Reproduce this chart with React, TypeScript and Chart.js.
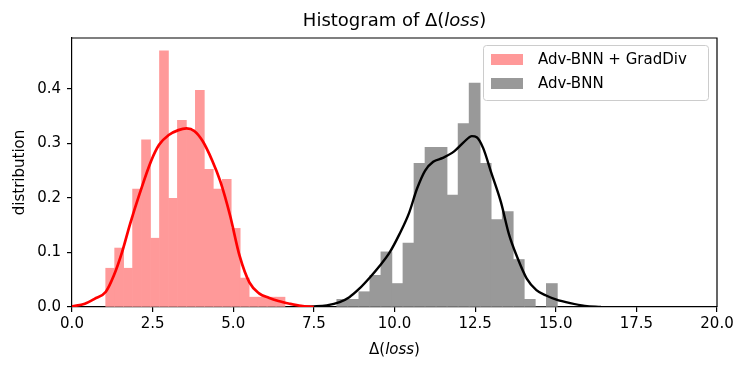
import React, { useEffect, useRef } from "react";
import { Chart, registerables } from "chart.js";

Chart.register(...registerables);

const FONT = "'DejaVu Sans', 'Liberation Sans', sans-serif";

// ---- Data ----
const redBinStart = 1.045;
const redBinWidth = 0.278;
const redHeights = [
  0.071, 0.108, 0.071, 0.216, 0.306, 0.126, 0.469, 0.199, 0.342, 0.325,
  0.397, 0.252, 0.216, 0.234, 0.144, 0.053, 0.018, 0.018, 0.018, 0.018,
];

const grayBinStart = 8.21;
const grayBinWidth = 0.342;
const grayHeights = [
  0.014, 0.014, 0.028, 0.058, 0.101, 0.043, 0.117, 0.263, 0.2925, 0.2925,
  0.205, 0.336, 0.41, 0.263, 0.16, 0.175, 0.087, 0.014, 0.0, 0.043,
];

const redKdeX = [
  0, 0.4, 0.7, 1.05, 1.3, 1.55, 1.8, 2.1, 2.45, 2.7, 3.0, 3.3, 3.55, 3.8,
  4.05, 4.35, 4.6, 4.9, 5.2, 5.5, 5.8, 6.1, 6.4, 6.75, 7.1, 7.5,
];
const redKdeY = [
  0.001, 0.006, 0.015, 0.028, 0.058, 0.1, 0.152, 0.208, 0.267, 0.297, 0.315,
  0.324, 0.327, 0.322, 0.304, 0.268, 0.23, 0.168, 0.093, 0.045, 0.025, 0.017,
  0.011, 0.006, 0.002, 0,
];

const grayKdeX = [
  7.0, 7.5, 7.9, 8.3, 8.6, 8.9, 9.25, 9.55, 9.85, 10.15, 10.45, 10.7, 10.95,
  11.2, 11.5, 11.85, 12.15, 12.4, 12.55, 12.75, 13.0, 13.3, 13.55, 13.8, 14.1,
  14.4, 14.7, 15.0, 15.45, 15.9, 16.4,
];
const grayKdeY = [
  0, 0.001, 0.003, 0.009, 0.018, 0.033, 0.055, 0.076, 0.1, 0.133, 0.172,
  0.217, 0.25, 0.266, 0.273, 0.285, 0.302, 0.313, 0.311, 0.291, 0.246, 0.192,
  0.133, 0.092, 0.052, 0.031, 0.021, 0.014, 0.007, 0.002, 0,
];

const xTicks = [0, 2.5, 5, 7.5, 10, 12.5, 15, 17.5, 20];
const yTicks = [0, 0.1, 0.2, 0.3, 0.4];
const xRange = [0, 20];
const yRange = [0, 0.4927];

const seriesLabels = ["Adv-BNN + GradDiv", "Adv-BNN"];
const titleParts = ["Histogram of \u0394(", "loss", ")"];
const xLabelParts = ["\u0394(", "loss", ")"];
const yLabelText = "distribution";

const RED_FILL = "#ff9999";
const GRAY_FILL = "#999999";

function binPoints(start: number, width: number, heights: number[]) {
  return heights.map((h, i) => ({ x: start + (i + 0.5) * width, y: h }));
}
function curvePoints(xs: number[], ys: number[]) {
  return xs.map((x, i) => ({ x, y: ys[i] }));
}

function drawMixed(
  ctx: CanvasRenderingContext2D,
  parts: string[],
  cx: number,
  baseline: number,
  size: number
) {
  const fonts = parts.map((_, i) =>
    i === 1 ? `italic ${size}px ${FONT}` : `${size}px ${FONT}`
  );
  const widths = parts.map((p, i) => {
    ctx.font = fonts[i];
    return ctx.measureText(p).width;
  });
  const total = widths.reduce((a, b) => a + b, 0);
  let x = cx - total / 2;
  ctx.textAlign = "left";
  ctx.textBaseline = "alphabetic";
  ctx.fillStyle = "#000";
  parts.forEach((p, i) => {
    ctx.font = fonts[i];
    ctx.fillText(p, x, baseline);
    x += widths[i];
  });
}

const decorPlugin = {
  id: "decor",
  afterDraw(chart: any) {
    const { ctx, chartArea: ca } = chart;
    ctx.save();
    // top & right spines
    ctx.strokeStyle = "#000";
    ctx.lineWidth = 1.2;
    ctx.beginPath();
    ctx.moveTo(ca.left, ca.top);
    ctx.lineTo(ca.right, ca.top);
    ctx.lineTo(ca.right, ca.bottom);
    ctx.stroke();

    const cx = (ca.left + ca.right) / 2;
    drawMixed(ctx, titleParts, cx, 26, 18);
    drawMixed(ctx, xLabelParts, cx, 354, 15);

    // y label
    ctx.save();
    ctx.translate(20, (ca.top + ca.bottom) / 2);
    ctx.rotate(-Math.PI / 2);
    ctx.font = `15px ${FONT}`;
    ctx.fillStyle = "#000";
    ctx.textAlign = "center";
    ctx.textBaseline = "middle";
    ctx.fillText(yLabelText, 0, 0);
    ctx.restore();

    // legend
    const lx = 483.5, ly = 45.5, lw = 225, lh = 55, r = 3;
    ctx.beginPath();
    ctx.moveTo(lx + r, ly);
    ctx.lineTo(lx + lw - r, ly);
    ctx.quadraticCurveTo(lx + lw, ly, lx + lw, ly + r);
    ctx.lineTo(lx + lw, ly + lh - r);
    ctx.quadraticCurveTo(lx + lw, ly + lh, lx + lw - r, ly + lh);
    ctx.lineTo(lx + r, ly + lh);
    ctx.quadraticCurveTo(lx, ly + lh, lx, ly + lh - r);
    ctx.lineTo(lx, ly + r);
    ctx.quadraticCurveTo(lx, ly, lx + r, ly);
    ctx.closePath();
    ctx.fillStyle = "rgba(255,255,255,0.8)";
    ctx.fill();
    ctx.strokeStyle = "#cccccc";
    ctx.lineWidth = 1;
    ctx.stroke();

    const swatches = [RED_FILL, GRAY_FILL];
    seriesLabels.forEach((label, i) => {
      const y = 54 + i * 24;
      ctx.fillStyle = swatches[i];
      ctx.fillRect(491, y, 32, 11);
      ctx.fillStyle = "#000";
      ctx.font = `15px ${FONT}`;
      ctx.textAlign = "left";
      ctx.textBaseline = "middle";
      ctx.fillText(label, 538, y + 6);
    });
    ctx.restore();
  },
};

export default function App() {
  const ref = useRef<HTMLCanvasElement | null>(null);

  useEffect(() => {
    if (!ref.current) return;
    const tickFont = { family: FONT, size: 15 };
    const chart = new Chart(ref.current, {
      type: "bar",
      data: {
        datasets: [
          {
            type: "line",
            label: "kde1",
            data: curvePoints(redKdeX, redKdeY),
            borderColor: "#ff0000",
            borderWidth: 2.7,
            pointRadius: 0,
            cubicInterpolationMode: "monotone",
            fill: false,
            xAxisID: "x",
            yAxisID: "y",
            order: 0,
          } as any,
          {
            type: "line",
            label: "kde2",
            data: curvePoints(grayKdeX, grayKdeY),
            borderColor: "#000000",
            borderWidth: 2.4,
            pointRadius: 0,
            cubicInterpolationMode: "monotone",
            fill: false,
            xAxisID: "x",
            yAxisID: "y",
            order: 0,
          } as any,
          {
            type: "bar",
            label: seriesLabels[0],
            data: binPoints(redBinStart, redBinWidth, redHeights),
            backgroundColor: RED_FILL,
            borderWidth: 0,
            barPercentage: 1,
            categoryPercentage: 1,
            grouped: false,
            xAxisID: "x",
            yAxisID: "y",
            order: 1,
          } as any,
          {
            type: "bar",
            label: seriesLabels[1],
            data: binPoints(grayBinStart, grayBinWidth, grayHeights),
            backgroundColor: GRAY_FILL,
            borderWidth: 0,
            barPercentage: 1,
            categoryPercentage: 1,
            grouped: false,
            xAxisID: "x2",
            yAxisID: "y",
            order: 1,
          } as any,
        ],
      },
      options: {
        animation: false,
        responsive: false,
        maintainAspectRatio: false,
        devicePixelRatio: 1,
        layout: { padding: { top: 38, right: 30, left: 0, bottom: 0 } },
        plugins: {
          legend: { display: false },
          title: { display: false },
          tooltip: { enabled: false },
        },
        scales: {
          x: {
            type: "linear",
            position: "bottom",
            min: xRange[0],
            max: xRange[1],
            offset: false,
            grid: {
              offset: false,
              drawOnChartArea: false,
              drawTicks: true,
              tickLength: 5,
              color: "#000",
              lineWidth: 1.2,
            },
            border: { display: true, color: "#000", width: 1.2 },
            ticks: {
              font: tickFont,
              color: "#000",
              padding: 3,
              maxRotation: 0,
              autoSkip: false,
              callback: (v: any) => Number(v).toFixed(1),
            },
            afterBuildTicks: (s: any) => {
              s.ticks = xTicks.map((v) => ({ value: v }));
            },
            afterFit: (s: any) => {
              s.height = 63;
            },
          },
          x2: {
            type: "linear",
            position: "bottom",
            display: false,
            min: xRange[0],
            max: xRange[1],
            offset: false,
            grid: { offset: false },
            afterBuildTicks: (s: any) => {
              s.ticks = xTicks.map((v) => ({ value: v }));
            },
          },
          y: {
            type: "linear",
            min: yRange[0],
            max: yRange[1],
            grid: {
              drawOnChartArea: false,
              drawTicks: true,
              tickLength: 5,
              color: "#000",
              lineWidth: 1.2,
            },
            border: { display: true, color: "#000", width: 1.2 },
            ticks: {
              font: tickFont,
              color: "#000",
              padding: 6,
              callback: (v: any) => Number(v).toFixed(1),
            },
            afterBuildTicks: (s: any) => {
              s.ticks = yTicks.map((v) => ({ value: v }));
            },
            afterFit: (s: any) => {
              s.width = 72;
            },
          },
        },
      } as any,
      plugins: [decorPlugin],
    });
    return () => chart.destroy();
  }, []);

  return (
    <div style={{ position: "absolute", left: 0, top: 0, width: 747, height: 370, background: "#fff" }}>
      <canvas ref={ref} width={747} height={370} style={{ width: 747, height: 370, display: "block" }} />
    </div>
  );
}
